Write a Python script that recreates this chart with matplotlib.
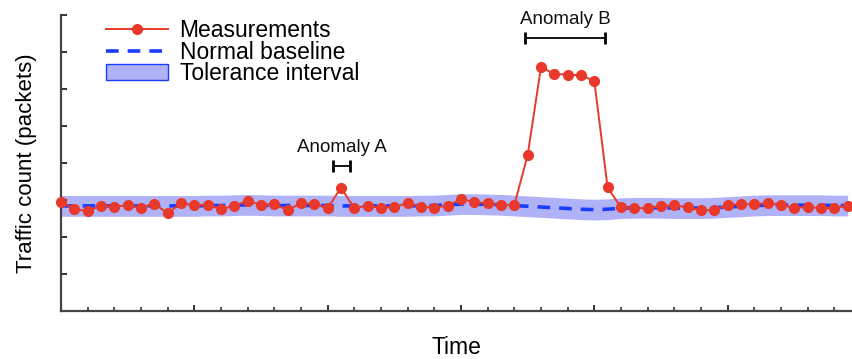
import numpy as np
import matplotlib
matplotlib.use("Agg")
from matplotlib import pyplot as plt
from matplotlib.patches import Patch
from matplotlib.lines import Line2D

# measured traffic, one point per time step
measurements = [2.95, 2.76, 2.69, 2.85, 2.82, 2.86, 2.79, 2.90, 2.64, 2.91,
                2.86, 2.87, 2.75, 2.84, 2.98, 2.87, 2.88, 2.73, 2.91, 2.90,
                2.78, 3.33, 2.78, 2.85, 2.78, 2.82, 2.91, 2.82, 2.79, 2.85,
                3.02, 2.95, 2.91, 2.86, 2.86, 4.21, 6.59, 6.41, 6.39, 6.37,
                6.22, 3.34, 2.80, 2.78, 2.78, 2.84, 2.86, 2.80, 2.72, 2.73,
                2.86, 2.89, 2.88, 2.92, 2.86, 2.79, 2.81, 2.78, 2.78, 2.85]

baseline = [2.84, 2.84, 2.84, 2.84, 2.84, 2.84, 2.84, 2.84, 2.84, 2.84,
            2.84, 2.85, 2.85, 2.86, 2.87, 2.86, 2.85, 2.85, 2.85, 2.85,
            2.85, 2.84, 2.84, 2.84, 2.84, 2.84, 2.84, 2.85, 2.85, 2.87,
            2.89, 2.89, 2.88, 2.87, 2.85, 2.83, 2.81, 2.79, 2.77, 2.75,
            2.74, 2.75, 2.78, 2.79, 2.79, 2.79, 2.78, 2.78, 2.78, 2.79,
            2.81, 2.83, 2.85, 2.86, 2.86, 2.86, 2.86, 2.86, 2.85, 2.85]

tolerance = 0.28

# anomaly brackets: (label, start, end, bracket height)
anomalies = [("Anomaly A", 20.4, 21.7, 3.93),
             ("Anomaly B", 34.8, 40.8, 7.37)]

red = "#e8392a"
blue = "#1a3cff"
band_color = "#b0b2f8"

plt.rcParams['font.family'] = ['Liberation Sans', 'DejaVu Sans']

fig = plt.figure(figsize=(8.52, 3.59), dpi=100)
ax = fig.add_axes([61 / 852, 48 / 359, 1 - 61 / 852, 296 / 359])

t = np.arange(len(measurements))
base = np.array(baseline)

ax.fill_between(t, base - tolerance, base + tolerance, color=band_color,
                lw=0, zorder=1)
ax.plot(t, base, color=blue, ls=(0, (3.5, 2.5)), lw=2.6, zorder=2)
ax.plot(t, measurements, color=red, lw=1.4, marker='o', markersize=7,
        zorder=3, clip_on=False)

for label, x0, x1, y in anomalies:
    ax.errorbar((x0 + x1) / 2, y, xerr=(x1 - x0) / 2, color='black',
                lw=1.3, capsize=4, capthick=2)
    ax.text((x0 + x1) / 2, y + 0.5, label, ha='center', va='center',
            fontsize=13.5, color='#111111')

ax.set_xlim(0, 59.33)
ax.set_ylim(0, 8)
ax.set_xticks(np.arange(0, 60, 10))
ax.set_xticks(np.arange(0, 60, 2), minor=True)
ax.set_yticks(np.arange(0, 9, 1))
ax.set_xticklabels([])
ax.set_yticklabels([])
ax.tick_params(axis='both', which='major', direction='in', length=4.5,
               width=1.3, color='#222222')
ax.tick_params(axis='x', which='minor', direction='in', length=3,
               width=1.1, color='#222222')

for side in ['top', 'right']:
    ax.spines[side].set_visible(False)
for side in ['left', 'bottom']:
    ax.spines[side].set_color('#444444')
    ax.spines[side].set_linewidth(1.6)

ax.set_xlabel("Time", fontsize=16.5, labelpad=14.5)
ax.set_ylabel("Traffic count (packets)", fontsize=16, labelpad=14)

handles = [Line2D([0, 0.5, 1], [0, 0, 0], color=red, lw=1.4, marker='o',
                  markersize=7, markevery=[1]),
           Line2D([], [], color=blue, ls=(0, (3.5, 2.5)), lw=2.6),
           Patch(facecolor=band_color, edgecolor=blue, lw=1)]
ax.legend(handles, ["Measurements", "Normal baseline", "Tolerance interval"],
          loc='upper left', bbox_to_anchor=(0.045, 1.016), frameon=False,
          fontsize=16.5, handlelength=2.7, handletextpad=0.52,
          labelspacing=-0.07, borderaxespad=0)

fig.savefig("out.png", dpi=100)
